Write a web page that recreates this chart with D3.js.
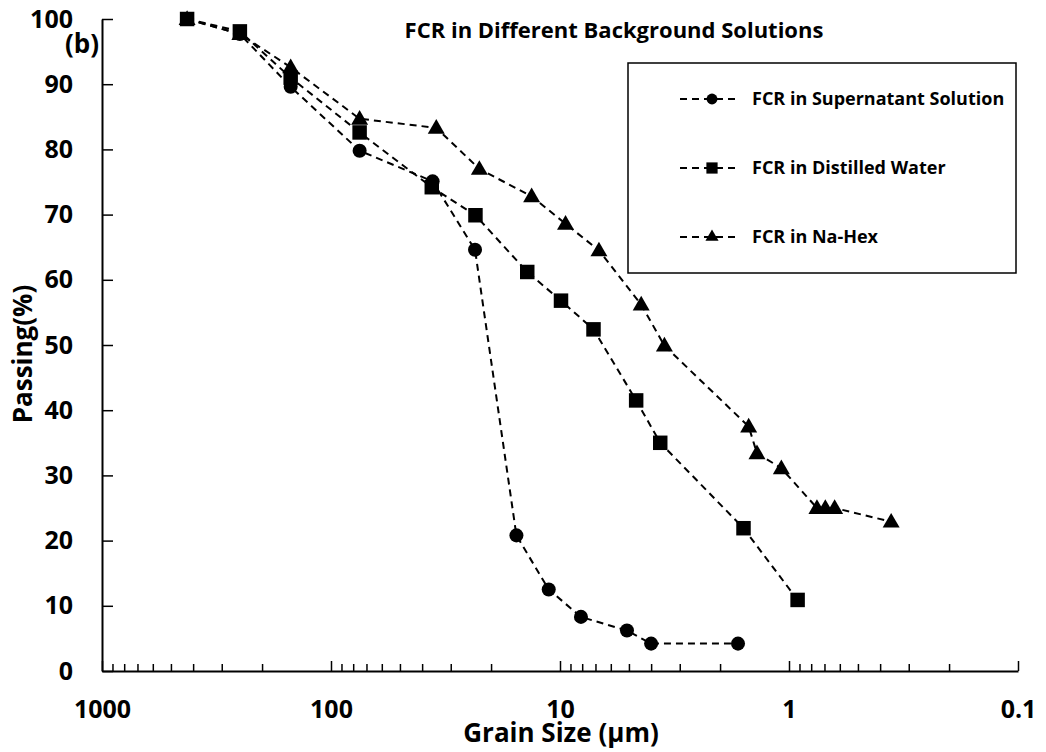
<!DOCTYPE html>
<html>
<head>
<meta charset="utf-8">
<script src="https://cdn.jsdelivr.net/npm/d3@7"></script>
<style>
  html, body { margin: 0; padding: 0; background: #fff; }
  svg { display: block; }
  text { font-family: "Open Sans", "Lato", sans-serif; font-weight: bold; fill: #000; }
</style>
</head>
<body>
<svg id="chart" width="1046" height="752"></svg>
<script>
// ---- data (grain size in µm, passing %) ----
const seriesNames = ["FCR in Supernatant Solution", "FCR in Distilled Water", "FCR in Na-Hex"];
const supernatantSize = [425, 250, 150, 75, 36, 23.5, 15.5, 11.2, 8.1, 5.1, 4.0, 1.67];
const supernatantPass = [100, 97.7, 89.6, 79.8, 75.1, 64.6, 20.8, 12.5, 8.3, 6.2, 4.2, 4.2];
const distilledSize = [425, 250, 150, 75, 36.3, 23.4, 13.9, 9.9, 7.14, 4.65, 3.65, 1.58, 0.917];
const distilledPass = [100, 98.1, 91.0, 82.6, 74.2, 69.9, 61.2, 56.8, 52.4, 41.5, 35.0, 21.9, 10.9];
const naHexSize = [425, 250, 150, 75, 34.7, 22.5, 13.3, 9.46, 6.76, 4.42, 3.5, 1.5, 1.38, 1.08, 0.755, 0.694, 0.632, 0.358];
const naHexPass = [100, 97.7, 92.6, 84.7, 83.3, 77.0, 72.8, 68.6, 64.5, 56.2, 49.9, 37.5, 33.4, 31.1, 25.0, 25.0, 25.0, 22.9];
const xTickValues = [1000, 100, 10, 1, 0.1];
const xTickLabels = ["1000", "100", "10", "1", "0.1"];
const yTickValues = [0, 10, 20, 30, 40, 50, 60, 70, 80, 90, 100];
const chartTitle = "FCR in Different Background Solutions";
const xTitle = "Grain Size (µm)";
const yTitle = "Passing(%)";
const panelLabel = "(b)";

const series = [
  { name: seriesNames[0], size: supernatantSize, pass: supernatantPass, symbol: d3.symbolCircle, area: 155 },
  { name: seriesNames[1], size: distilledSize, pass: distilledPass, symbol: d3.symbolSquare, area: 210 },
  { name: seriesNames[2], size: naHexSize, pass: naHexPass, symbol: d3.symbolTriangle, area: 125 }
];

const svg = d3.select("#chart");
const x = d3.scaleLog().domain([1000, 0.1]).range([102, 1018]);
const y = d3.scaleLinear().domain([0, 100]).range([671, 19]);

// minor tick values
const minor = [];
for (let e = -1; e < 3; e++) for (let m = 2; m <= 9; m++) minor.push(m * Math.pow(10, e));

// x axis
const xAxisG = svg.append("g").attr("transform", `translate(0,${y(0)})`)
  .call(d3.axisBottom(x).tickValues(xTickValues)
    .tickFormat((d, i) => xTickLabels[i]).tickSize(-10).tickPadding(29).tickSizeOuter(0));
xAxisG.select(".domain").attr("stroke-width", 2);
xAxisG.selectAll(".tick line").attr("stroke-width", 1.5);
xAxisG.selectAll("text").style("font-size", "25px");
const xMinorG = svg.append("g").attr("transform", `translate(0,${y(0)})`)
  .call(d3.axisBottom(x).tickValues(minor).tickFormat("").tickSize(-7).tickSizeOuter(0));
xMinorG.select(".domain").remove();
xMinorG.selectAll(".tick line").attr("stroke-width", 1.5);

// y axis
const yAxisG = svg.append("g").attr("transform", `translate(${x(1000)},0)`)
  .call(d3.axisLeft(y).tickValues(yTickValues).tickSize(-11).tickPadding(29).tickSizeOuter(0));
yAxisG.select(".domain").attr("stroke-width", 2);
yAxisG.selectAll(".tick line").attr("stroke-width", 1.5);
yAxisG.selectAll("text").style("font-size", "25px");

// lines and markers
const line = d3.line().x(d => x(d[0])).y(d => y(d[1]));
series.forEach(s => {
  const pts = s.size.map((v, i) => [v, s.pass[i]]);
  svg.append("path").datum(pts).attr("d", line)
    .attr("fill", "none").attr("stroke", "#000").attr("stroke-width", 2)
    .attr("stroke-dasharray", "7,5");
});
series.forEach(s => {
  const pts = s.size.map((v, i) => [v, s.pass[i]]);
  const sym = d3.symbol().type(s.symbol).size(s.area);
  svg.append("g").selectAll("path").data(pts).join("path")
    .attr("d", sym)
    .attr("transform", d => `translate(${x(d[0])},${y(d[1]) + (s.symbol === d3.symbolTriangle ? 1 : 0)})`)
    .attr("fill", "#000");
});

// legend
const lg = svg.append("g");
lg.append("rect").attr("x", 628).attr("y", 63).attr("width", 388).attr("height", 210)
  .attr("fill", "#fff").attr("stroke", "#000").attr("stroke-width", 1.5);
const legendY = [99, 168, 237];
series.forEach((s, i) => {
  const ly = legendY[i];
  lg.append("line").attr("x1", 680).attr("x2", 738).attr("y1", ly).attr("y2", ly)
    .attr("stroke", "#000").attr("stroke-width", 2).attr("stroke-dasharray", "7,5");
  lg.append("path").attr("d", d3.symbol().type(s.symbol).size(s.area * 0.6)())
    .attr("transform", `translate(712,${ly})`).attr("fill", "#000");
  lg.append("text").attr("x", 752).attr("y", ly).attr("dy", "0.35em")
    .style("font-size", "18px").text(s.name);
});

// titles
svg.append("text").attr("x", 614).attr("y", 30).attr("text-anchor", "middle")
  .attr("dy", "0.35em").style("font-size", "22px").text(chartTitle);
svg.append("text").attr("x", 561).attr("y", 742).attr("text-anchor", "middle")
  .style("font-size", "26px").text(xTitle);
svg.append("text").attr("transform", "translate(32,354) rotate(-90)").attr("text-anchor", "middle")
  .style("font-size", "26px").text(yTitle);
svg.append("text").attr("x", 65).attr("y", 53).style("font-size", "26px").text(panelLabel);
</script>
</body>
</html>
